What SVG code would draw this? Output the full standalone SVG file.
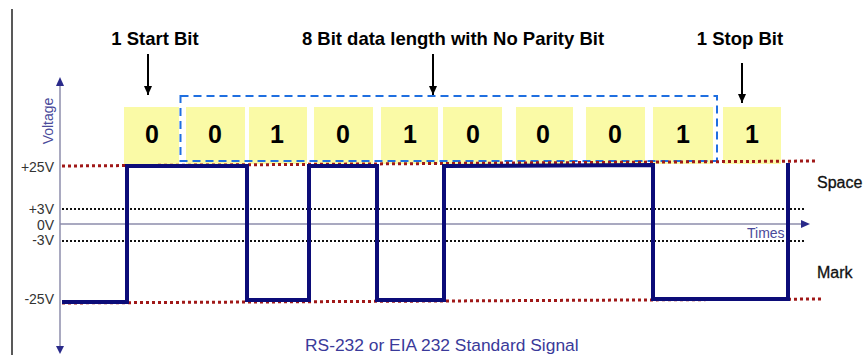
<svg xmlns="http://www.w3.org/2000/svg" width="863" height="355" viewBox="0 0 863 355">
<style>
.title{font-family:"Liberation Sans",Arial,sans-serif;font-weight:bold;font-size:18.5px;fill:#000;text-anchor:middle}
.bit{font-family:"Liberation Sans",Arial,sans-serif;font-weight:bold;font-size:25px;fill:#000;text-anchor:middle}
.box{fill:#fafaa6}
.vl{font-family:"Liberation Sans",Arial,sans-serif;font-size:14px;fill:#333;text-anchor:end}
.lvl{font-family:"Liberation Sans",Arial,sans-serif;font-size:16px;fill:#111;stroke:#111;stroke-width:0.3}
.axl{font-family:"Liberation Sans",Arial,sans-serif;font-size:14px;fill:#4a4a9a}
.red{stroke:#a01818;stroke-width:3;stroke-dasharray:3,3;fill:none}
.blk{stroke:#111;stroke-width:2;stroke-dasharray:2,2;fill:none}
.ptr{stroke:#000;stroke-width:2;fill:none;marker-end:url(#ah)}
</style>
<defs>
<marker id="ah" markerUnits="userSpaceOnUse" markerWidth="10" markerHeight="10" refX="9" refY="5" orient="auto">
<path d="M0,1 L9,5 L0,9 z" fill="#000"/>
</marker>
</defs>
<line x1="12" y1="9" x2="12" y2="355" stroke="#222" stroke-width="1.5"/>
<g id="title-start"><text class="title" x="155" y="45">1 Start Bit</text></g>
<g id="title-data"><text class="title" x="453" y="45">8 Bit data length with No Parity Bit</text></g>
<g id="title-stop"><text class="title" x="740" y="45">1 Stop Bit</text></g>
<g id="bits">
<rect class="box" x="124" y="107" width="55" height="57"/>
<rect class="box" x="186" y="107" width="59" height="57"/>
<rect class="box" x="249" y="107" width="58" height="57"/>
<rect class="box" x="314" y="107" width="59" height="57"/>
<rect class="box" x="381" y="107" width="57" height="57"/>
<rect class="box" x="443" y="107" width="59" height="57"/>
<rect class="box" x="516" y="107" width="57" height="57"/>
<rect class="box" x="586" y="107" width="59" height="57"/>
<rect class="box" x="653" y="107" width="60" height="57"/>
<rect class="box" x="723" y="107" width="58" height="57"/>
<text class="bit" x="152" y="143">0</text>
<text class="bit" x="215" y="143">0</text>
<text class="bit" x="277" y="143">1</text>
<text class="bit" x="343" y="143">0</text>
<text class="bit" x="410" y="143">1</text>
<text class="bit" x="473" y="143">0</text>
<text class="bit" x="543" y="143">0</text>
<text class="bit" x="615" y="143">0</text>
<text class="bit" x="683" y="143">1</text>
<text class="bit" x="752" y="143">1</text>
</g>
<g id="data-frame"><rect x="180.5" y="96" width="536.5" height="65" fill="none" stroke="#1f6fe0" stroke-width="2" stroke-dasharray="8,5"/></g>
<g id="connectors">
<line class="ptr" x1="148" y1="54" x2="148" y2="95"/>
<line class="ptr" x1="433" y1="54" x2="433" y2="95"/>
<line class="ptr" x1="742" y1="63" x2="742" y2="103"/>
</g>
<g id="levels">
<line class="red" x1="62" y1="166" x2="815" y2="161"/>
<line class="red" x1="62" y1="303" x2="823" y2="299"/>
<line class="blk" x1="62" y1="209" x2="805" y2="209"/>
<line class="blk" x1="62" y1="241" x2="805" y2="241"/>
<text class="vl" x="54" y="172">+25V</text>
<text class="vl" x="54" y="214">+3V</text>
<text class="vl" x="54" y="230">0V</text>
<text class="vl" x="54" y="245">-3V</text>
<text class="vl" x="54" y="304">-25V</text>
</g>
<g id="axes">
<line x1="60" y1="84" x2="60" y2="348" stroke="#8c8cab" stroke-width="1.5"/>
<path d="M56,86 L60,77 L64,86 z" fill="#2a2a8a"/>
<path d="M56,346 L60,354 L64,346 z" fill="#2a2a8a"/>
<line x1="60" y1="224" x2="802" y2="224" stroke="#8c8cab" stroke-width="1.5"/>
<path d="M801,220 L810,224 L801,228 z" fill="#2a2a8a"/>
<text class="axl" transform="translate(53,121) rotate(-90)" text-anchor="middle">Voltage</text>
<text class="axl" x="747" y="238" font-size="13">Times</text>
</g>
<g id="signal"><polyline points="62,302 127,302 127,166 247,166 247,300 309,300 309,166 377,166 377,300 444,300 444,166 653,165 653,299 788,299 788,163" fill="none" stroke="#0c0c78" stroke-width="4" stroke-linejoin="miter"/></g>
<text class="lvl" x="817" y="188">Space</text>
<text class="lvl" x="817" y="278">Mark</text>
<text x="305" y="351" font-family="Liberation Sans,Arial,sans-serif" font-size="17.4px" fill="#3a3a9a">RS-232 or EIA 232 Standard Signal</text>
</svg>
